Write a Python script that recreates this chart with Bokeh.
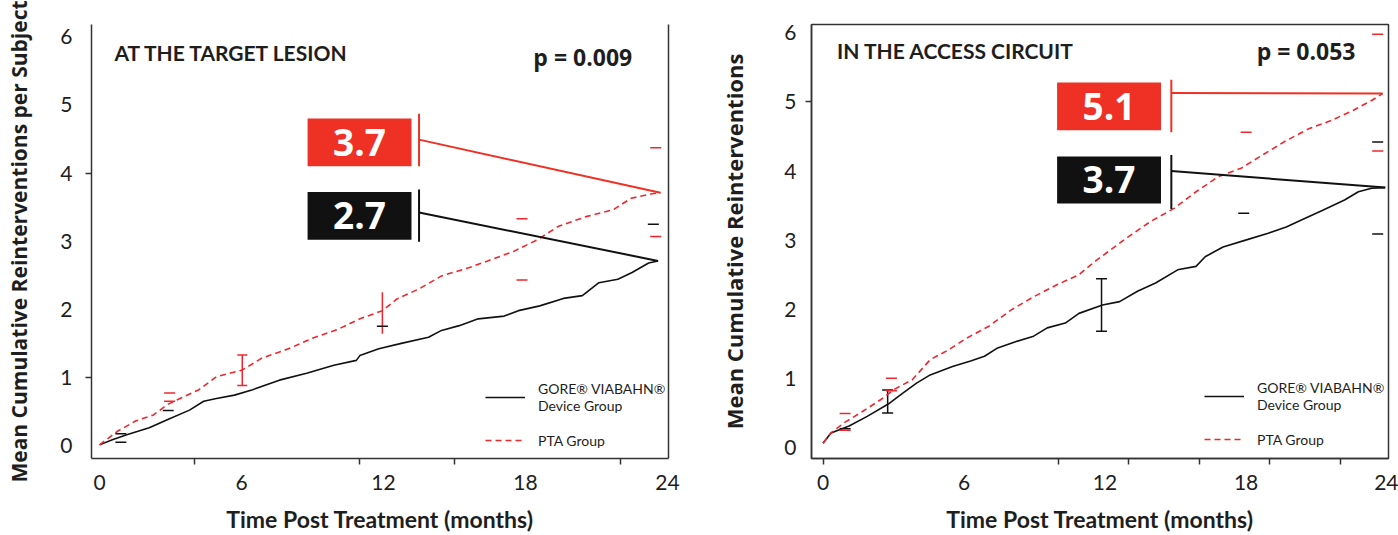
from bokeh.plotting import figure
from bokeh.models import (Range1d, FixedTicker, LinearAxis, Label, BoxAnnotation, Whisker,
                          TeeHead, ColumnDataSource, Legend, LegendItem)
from bokeh.layouts import row
from bokeh.embed import file_html
from bokeh.resources import INLINE

# ---------------- data ----------------
x_tick_labels = [0, 6, 12, 18, 24]
y_tick_labels = [0, 1, 2, 3, 4, 5, 6]

# Panel A: at the target lesion
a_gore_t = [0, 0.57, 1.15, 2.1, 2.86, 3.8, 4.4, 4.94, 5.7, 6.47, 7.6, 8.75, 9.9, 10.85, 11.0,
            11.8, 12.75, 13.9, 14.45, 15.2, 16.0, 17.1, 17.7, 18.6, 19.6, 20.4, 21.1, 21.9,
            22.5, 23.2, 23.6]
a_gore_v = [0.01, 0.09, 0.16, 0.26, 0.38, 0.52, 0.65, 0.69, 0.74, 0.82, 0.96, 1.06, 1.18, 1.25,
            1.32, 1.42, 1.50, 1.59, 1.69, 1.76, 1.86, 1.90, 1.98, 2.05, 2.16, 2.20, 2.39, 2.44,
            2.54, 2.68, 2.71]
a_pta_t = [0, 0.76, 1.52, 2.28, 2.86, 3.4, 4.2, 4.94, 6.04, 6.84, 7.98, 8.96, 10.1, 11.0, 11.95,
           12.56, 13.5, 14.45, 15.6, 16.4, 17.5, 18.5, 19.4, 20.56, 21.7, 22.46, 23.4, 23.7]
a_pta_v = [0.01, 0.21, 0.36, 0.45, 0.60, 0.69, 0.82, 1.01, 1.11, 1.28, 1.42, 1.57, 1.71, 1.86,
           1.98, 2.15, 2.30, 2.49, 2.61, 2.71, 2.85, 3.02, 3.22, 3.36, 3.46, 3.63, 3.70, 3.71]
a_gore_ci_t = [0.9, 0.9, 2.9, 11.95, 23.4]
a_gore_ci_v = [0.05, 0.175, 0.515, 1.75, 3.25]
a_pta_ci_t = [2.96, 2.96, 17.85, 17.85, 23.5, 23.5]
a_pta_ci_v = [0.77, 0.65, 2.43, 3.33, 4.37, 3.07]
a_pta_bar_t = [6.03, 11.95]
a_pta_bar_lo = [0.88, 1.64]
a_pta_bar_hi = [1.33, 2.25]
a_gore_end_label = "2.7"
a_pta_end_label = "3.7"
a_title = "AT THE TARGET LESION"
a_p = "p = 0.009"

# Panel B: in the access circuit
b_gore_t = [0, 0.34, 1.11, 1.88, 2.83, 3.41, 3.98, 4.56, 5.51, 6.28, 6.87, 7.43, 8.19, 8.96,
            9.54, 10.31, 10.89, 11.89, 12.62, 13.38, 14.15, 15.09, 15.87, 16.26, 17.02, 17.98,
            18.94, 19.71, 20.47, 21.24, 22.19, 22.78, 23.34, 23.92]
b_gore_v = [0.06, 0.21, 0.31, 0.45, 0.64, 0.79, 0.93, 1.05, 1.17, 1.25, 1.32, 1.44, 1.53, 1.61,
            1.73, 1.80, 1.94, 2.06, 2.11, 2.26, 2.38, 2.57, 2.62, 2.76, 2.90, 3.00, 3.10, 3.19,
            3.31, 3.43, 3.58, 3.70, 3.75, 3.76]
b_pta_t = [0, 0.34, 0.91, 1.68, 2.45, 3.03, 3.80, 4.56, 5.33, 6.10, 7.04, 8.01, 8.96, 9.93,
           10.89, 11.64, 12.04, 13.00, 13.94, 14.94, 15.87, 16.83, 17.79, 18.55, 19.13, 19.71,
           20.66, 21.62, 22.57, 23.34, 23.81]
b_pta_v = [0.06, 0.21, 0.36, 0.52, 0.69, 0.84, 0.98, 1.27, 1.41, 1.58, 1.75, 1.99, 2.18, 2.35,
           2.50, 2.71, 2.81, 3.05, 3.27, 3.46, 3.70, 3.92, 4.04, 4.20, 4.32, 4.44, 4.61, 4.73,
           4.88, 5.02, 5.12]
b_gore_ci_t = [0.94, 17.9, 23.6, 23.6]
b_gore_ci_v = [0.27, 3.39, 4.42, 3.09]
b_pta_ci_t = [0.94, 0.94, 2.91, 2.91, 18.0, 23.6, 23.6]
b_pta_ci_v = [0.49, 0.25, 1.0, 0.82, 4.56, 5.98, 4.29]
b_gore_bar_t = [2.75, 11.85]
b_gore_bar_lo = [0.50, 1.68]
b_gore_bar_hi = [0.83, 2.44]
b_gore_end_label = "3.7"
b_pta_end_label = "5.1"
b_title = "IN THE ACCESS CIRCUIT"
b_p = "p = 0.053"

legend_gore = "GORE\u00ae VIABAHN\u00ae\nDevice Group"
legend_pta = "PTA Group"
x_title = "Time Post Treatment (months)"
y_title_a = "Mean Cumulative Reinterventions per Subject"
y_title_b = "Mean Cumulative Reinterventions"

# ---------------- style ----------------
NARROW = "Lato"
SANS = "Open Sans"
INK = "#1e1e1e"
AX = "#333333"
RED_LINE = "#f0262c"
RED_BOX = "#ee3124"
BLACK = "#111111"


def build(cfg):
    p = figure(width=cfg["width"], height=535, output_backend="svg", toolbar_location=None,
               x_range=Range1d(*cfg["xr"]), y_range=Range1d(*cfg["yr"]),
               min_border_left=cfg["bl"], min_border_right=cfg["br"],
               min_border_top=cfg["bt"], min_border_bottom=cfg["bb"])
    p.background_fill_color = "white"
    p.border_fill_color = "white"
    p.grid.visible = False
    if cfg["outline"]:
        p.outline_line_color = AX
        p.outline_line_width = 1.5
    else:
        p.outline_line_color = None
        ra = LinearAxis(ticker=FixedTicker(ticks=[]), axis_line_color=AX, axis_line_width=1.5,
                        major_label_text_font_size="0px", major_tick_out=0, minor_tick_out=0)
        p.add_layout(ra, "right")

    xa = p.xaxis[0]
    xa.ticker = FixedTicker(ticks=x_tick_labels, minor_ticks=cfg["xminor"])
    ya = p.yaxis[0]
    ya.ticker = FixedTicker(ticks=y_tick_labels, minor_ticks=cfg["yminor"])
    for ax in (xa, ya):
        ax.axis_line_color = AX
        ax.axis_line_width = 1.5
        ax.major_tick_out = 0
        ax.major_tick_in = 0
        ax.minor_tick_out = 6
        ax.minor_tick_in = 0
        ax.minor_tick_line_color = AX
        ax.minor_tick_line_width = 1.5
        ax.major_label_text_font = NARROW
        ax.major_label_text_font_size = "21px"
        ax.major_label_text_color = INK
    xa.major_label_standoff = 10
    ya.major_label_standoff = cfg["ystand"]
    xa.axis_label = x_title
    xa.axis_label_text_font = NARROW
    xa.axis_label_text_font_size = "23px"
    xa.axis_label_text_font_style = "bold"
    xa.axis_label_text_color = INK
    xa.axis_label_standoff = 12
    ya.axis_label = cfg["ytitle"]
    ya.axis_label_text_font = SANS
    ya.axis_label_text_font_size = cfg["ytsize"]
    ya.axis_label_text_font_style = "bold"
    ya.axis_label_text_color = INK
    ya.axis_label_standoff = cfg["ylstand"]

    gore = p.line(cfg["gt"], cfg["gv"], line_color=BLACK, line_width=1.6)
    pta = p.line(cfg["pt"], cfg["pv"], line_color=RED_LINE, line_width=1.6, line_dash="6 4")

    # confidence-limit marks
    p.scatter(cfg["gct"], cfg["gcv"], marker="dash", size=11, line_color=BLACK, line_width=1.5)
    p.scatter(cfg["pct"], cfg["pcv"], marker="dash", size=11, line_color=RED_LINE, line_width=1.5)
    col = cfg["barcol"]
    if cfg["caps"] == "first":
        s1 = ColumnDataSource(dict(t=cfg["bt_t"][:1], lo=cfg["bt_lo"][:1], hi=cfg["bt_hi"][:1]))
        s2 = ColumnDataSource(dict(t=cfg["bt_t"][1:], lo=cfg["bt_lo"][1:], hi=cfg["bt_hi"][1:]))
        p.add_layout(Whisker(source=s1, base="t", lower="lo", upper="hi", dimension="height",
                             line_color=col, line_width=1.5,
                             lower_head=TeeHead(size=10, line_color=col, line_width=1.5),
                             upper_head=TeeHead(size=10, line_color=col, line_width=1.5)))
        p.add_layout(Whisker(source=s2, base="t", lower="lo", upper="hi", dimension="height",
                             line_color=col, line_width=1.5, lower_head=None, upper_head=None))
    else:
        src = ColumnDataSource(dict(t=cfg["bt_t"], lo=cfg["bt_lo"], hi=cfg["bt_hi"]))
        p.add_layout(Whisker(source=src, base="t", lower="lo", upper="hi", dimension="height",
                             line_color=col, line_width=1.5,
                             lower_head=TeeHead(size=11, line_color=col, line_width=1.5),
                             upper_head=TeeHead(size=11, line_color=col, line_width=1.5)))

    # end-value callouts
    bx0, bx1, vx = cfg["box_x0"], cfg["box_x1"], cfg["vline_x"]
    for (b0, b1, v0, v1, cy, txt, ex, ey, colr) in (
        (*cfg["red_box"], cfg["pta_lbl"], cfg["pt"][-1], cfg["pv"][-1], RED_BOX),
        (*cfg["blk_box"], cfg["gore_lbl"], cfg["gt"][-1], cfg["gv"][-1], BLACK),
    ):
        p.add_layout(BoxAnnotation(left=bx0, right=bx1, bottom=b0, top=b1, fill_color=colr,
                                   fill_alpha=1.0, line_color=None))
        p.add_layout(Label(x=(bx0 + bx1) / 2, y=(b0 + b1) / 2, text=txt, text_align="center",
                           text_baseline="middle", text_color="white", text_font=SANS,
                           text_font_style="bold", text_font_size="37px", level="overlay"))
        p.segment(x0=[vx], y0=[v0], x1=[vx], y1=[v1], line_color=colr, line_width=2)
        p.segment(x0=[vx], y0=[cy], x1=[ex], y1=[ey], line_color=colr, line_width=2)

    # panel title and p value
    p.add_layout(Label(x=cfg["title_x"], y=cfg["title_y"], text=cfg["title"], text_font=NARROW,
                       text_font_style="bold", text_font_size="21px", text_color=INK,
                       text_baseline="middle"))
    p.add_layout(Label(x=cfg["p_x"], y=cfg["p_y"], text=cfg["p"], text_font=SANS,
                       text_font_style="bold", text_font_size="23px", text_color=INK,
                       text_baseline="middle"))

    leg = Legend(items=[LegendItem(label=legend_gore, renderers=[gore]),
                        LegendItem(label=legend_pta, renderers=[pta])],
                 location=cfg["leg_loc"], glyph_width=40, glyph_height=18, label_standoff=13,
                 spacing=17, padding=0, margin=0, border_line_color=None,
                 background_fill_alpha=0, label_text_font=NARROW, label_text_font_size="14px",
                 label_text_color=INK, label_height=18)
    p.add_layout(leg)
    return p


cfg_a = dict(width=700, xr=(-0.34, 24.04), yr=(-0.19, 6.18), bl=91, br=32, bt=23, bb=74,
             outline=False,
             xminor=[4, 11, 15, 22], yminor=[1, 4], ystand=13, ylstand=24, ytsize="21px",
             ytitle=y_title_a,
             gt=a_gore_t, gv=a_gore_v, pt=a_pta_t, pv=a_pta_v,
             gct=a_gore_ci_t, gcv=a_gore_ci_v, pct=a_pta_ci_t, pcv=a_pta_ci_v,
             bt_t=a_pta_bar_t, bt_lo=a_pta_bar_lo, bt_hi=a_pta_bar_hi, barcol=RED_LINE,
             caps="first",
             box_x0=8.79, box_x1=13.18, vline_x=13.5,
             red_box=(4.10, 4.80, 4.10, 4.87, 4.49),
             blk_box=(3.02, 3.72, 2.99, 3.76, 3.42),
             pta_lbl=a_pta_end_label, gore_lbl=a_gore_end_label,
             title=a_title, title_x=0.63, title_y=5.775, p=a_p, p_x=18.33, p_y=5.70,
             leg_loc=(394, 9))

cfg_b = dict(width=698, xr=(-0.49, 24.06), yr=(-0.16, 6.12), bl=111, br=10, bt=24, bb=76,
             outline=True,
             xminor=[0, 10, 13, 16, 19, 22], yminor=[5], ystand=9, ylstand=32, ytsize="22px",
             ytitle=y_title_b,
             gt=b_gore_t, gv=b_gore_v, pt=b_pta_t, pv=b_pta_v,
             gct=b_gore_ci_t, gcv=b_gore_ci_v, pct=b_pta_ci_t, pcv=b_pta_ci_v,
             bt_t=b_gore_bar_t, bt_lo=b_gore_bar_lo, bt_hi=b_gore_bar_hi, barcol=BLACK,
             caps="all",
             box_x0=9.96, box_x1=14.38, vline_x=14.82,
             red_box=(4.59, 5.28, 4.56, 5.32, 5.13),
             blk_box=(3.53, 4.21, 3.45, 4.23, 4.0),
             pta_lbl=b_pta_end_label, gore_lbl=b_gore_end_label,
             title=b_title, title_x=0.6, title_y=5.74, p=b_p, p_x=18.45, p_y=5.73,
             leg_loc=(393, 10))

left = build(cfg_a)
right = build(cfg_b)
layout = row(left, right)

open("out.html", "w").write(file_html(layout, INLINE))
